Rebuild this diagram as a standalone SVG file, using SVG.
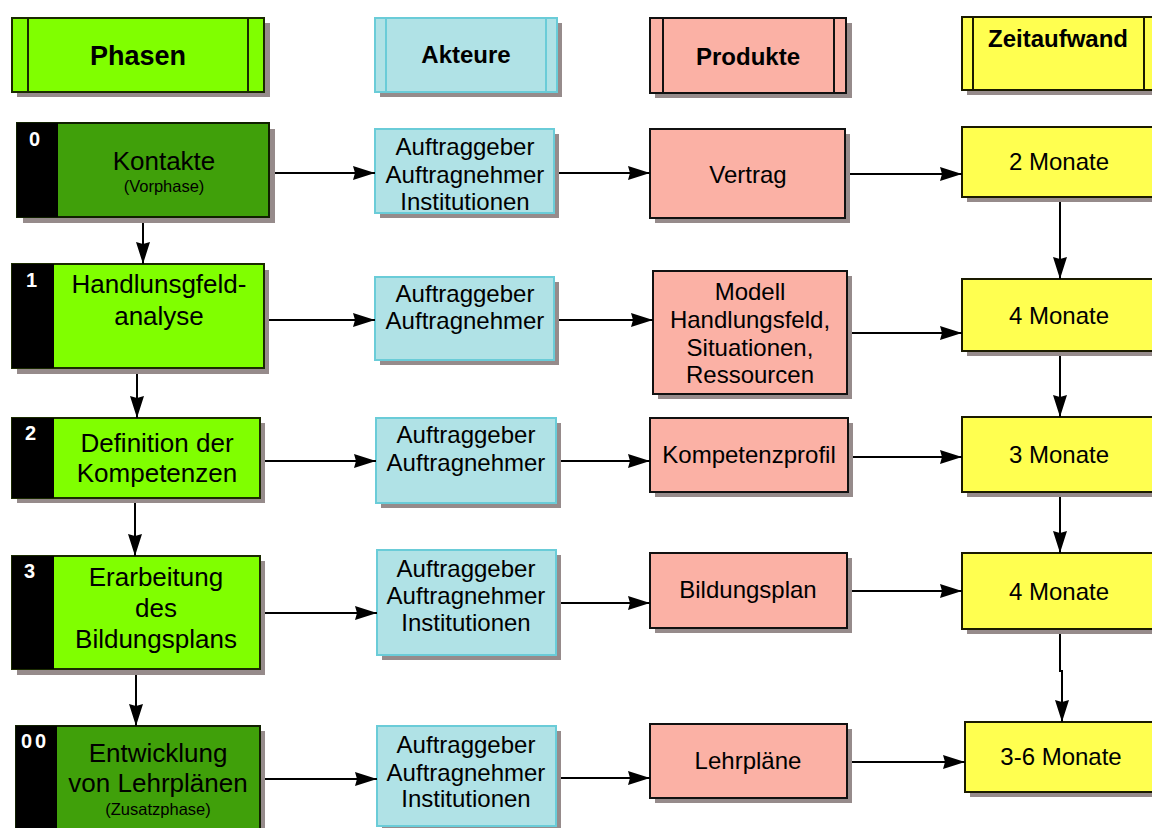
<svg xmlns="http://www.w3.org/2000/svg" width="1152" height="828" viewBox="0 0 1152 828">
<defs>
<style>
.sh{fill:#968b8b}
.lg{fill:#80ff00;stroke:#1a2a00;stroke-width:2}
.dg{fill:#40a00a;stroke:#102000;stroke-width:2}
.blk{fill:#000}
.ak{fill:#b0e2e6;stroke:#6accd8;stroke-width:2}
.pr{fill:#fbb1a5;stroke:#111;stroke-width:2}
.ze{fill:#ffff50;stroke:#1a1a00;stroke-width:2}
.t{font-family:"Liberation Sans",Arial,sans-serif;font-size:24px;fill:#000;text-anchor:middle}
.tp{font-family:"Liberation Sans",Arial,sans-serif;font-size:26px;fill:#000;text-anchor:middle}
.ts{font-family:"Liberation Sans",Arial,sans-serif;font-size:16.5px;fill:#000;text-anchor:middle}
.th{font-family:"Liberation Sans",Arial,sans-serif;font-size:24px;font-weight:bold;fill:#000;text-anchor:middle}
.num{font-family:"Liberation Sans",Arial,sans-serif;font-size:20px;font-weight:bold;fill:#fff}
.c{stroke:#000;stroke-width:2;fill:none;marker-end:url(#ah)}
</style>
<marker id="ah" markerUnits="userSpaceOnUse" markerWidth="23" markerHeight="15" refX="22" refY="7" orient="auto">
<path d="M0,0 L22,7 L0,14 L2,7 z" fill="#000"/>
</marker>
</defs>

<!-- headers -->
<g id="h-phasen">
<rect class="sh" x="17" y="23" width="253" height="74"/>
<rect class="lg" x="12" y="18" width="252" height="74"/>
<line x1="28" y1="18" x2="28" y2="92" stroke="#1a2a00" stroke-width="2"/>
<line x1="248" y1="18" x2="248" y2="92" stroke="#1a2a00" stroke-width="2"/>
<text class="th" x="138" y="65" style="font-size:27px">Phasen</text>
</g>
<g id="h-akteure">
<rect class="sh" x="380" y="23" width="182" height="74"/>
<rect class="ak" x="375" y="18" width="182" height="74"/>
<line x1="386" y1="18" x2="386" y2="92" stroke="#6accd8" stroke-width="2"/>
<line x1="546" y1="18" x2="546" y2="92" stroke="#6accd8" stroke-width="2"/>
<text class="th" x="466" y="63">Akteure</text>
</g>
<g id="h-produkte">
<rect class="sh" x="655" y="23" width="197" height="75"/>
<rect class="pr" x="650" y="18" width="196" height="75"/>
<line x1="663" y1="18" x2="663" y2="93" stroke="#111" stroke-width="2"/>
<line x1="834" y1="18" x2="834" y2="93" stroke="#111" stroke-width="2"/>
<text class="th" x="748" y="65">Produkte</text>
</g>
<g id="h-zeit">
<rect class="sh" x="967" y="22" width="200" height="73"/>
<rect class="ze" x="962" y="17" width="200" height="73"/>
<line x1="973" y1="17" x2="973" y2="90" stroke="#1a1a00" stroke-width="2"/>
<line x1="1144" y1="17" x2="1144" y2="90" stroke="#1a1a00" stroke-width="2"/>
<text class="th" x="1058" y="47">Zeitaufwand</text>
</g>

<!-- phases -->
<g id="p0">
<rect class="sh" x="23" y="129" width="252" height="94"/>
<rect class="dg" x="17" y="123" width="252" height="94"/>
<rect class="blk" x="17" y="123" width="41" height="94"/>
<text class="num" x="29" y="146">0</text>
<text class="tp" x="164" y="170">Kontakte</text>
<text class="ts" x="164" y="192">(Vorphase)</text>
</g>
<g id="p1">
<rect class="sh" x="17" y="270" width="252" height="104"/>
<rect class="lg" x="12" y="264" width="252" height="104"/>
<rect class="blk" x="12" y="264" width="42" height="104"/>
<text class="num" x="26" y="287">1</text>
<text class="tp" x="159" y="293">Handlunsgfeld-</text>
<text class="tp" x="159" y="325">analyse</text>
</g>
<g id="p2">
<rect class="sh" x="17" y="423" width="248" height="80"/>
<rect class="lg" x="12" y="418" width="248" height="80"/>
<rect class="blk" x="12" y="418" width="42" height="80"/>
<text class="num" x="25" y="440">2</text>
<text class="tp" x="157" y="452">Definition der</text>
<text class="tp" x="157" y="482">Kompetenzen</text>
</g>
<g id="p3">
<rect class="sh" x="17" y="561" width="248" height="114"/>
<rect class="lg" x="12" y="556" width="248" height="113"/>
<rect class="blk" x="12" y="556" width="42" height="113"/>
<text class="num" x="24" y="578">3</text>
<text class="tp" x="156" y="586">Erarbeitung</text>
<text class="tp" x="156" y="617">des</text>
<text class="tp" x="156" y="648">Bildungsplans</text>
</g>
<g id="p00">
<rect class="sh" x="21" y="731" width="244" height="110"/>
<rect class="dg" x="16" y="726" width="244" height="110"/>
<rect class="blk" x="16" y="726" width="41" height="110"/>
<text class="num" x="21" y="748" style="letter-spacing:3px">00</text>
<text class="tp" x="158" y="762">Entwicklung</text>
<text class="tp" x="158" y="792">von Lehrplänen</text>
<text class="ts" x="158" y="815">(Zusatzphase)</text>
</g>

<!-- actors -->
<g id="a0">
<rect class="sh" x="380" y="134" width="179" height="84"/>
<rect class="ak" x="375" y="129" width="179" height="84"/>
<text class="t" x="465" y="155">Auftraggeber</text>
<text class="t" x="465" y="183">Auftragnehmer</text>
<text class="t" x="465" y="210">Institutionen</text>
</g>
<g id="a1">
<rect class="sh" x="380" y="282" width="179" height="83"/>
<rect class="ak" x="375" y="277" width="179" height="83"/>
<text class="t" x="465" y="302">Auftraggeber</text>
<text class="t" x="465" y="329">Auftragnehmer</text>
</g>
<g id="a2">
<rect class="sh" x="381" y="423" width="180" height="85"/>
<rect class="ak" x="376" y="418" width="180" height="85"/>
<text class="t" x="466" y="443">Auftraggeber</text>
<text class="t" x="466" y="471">Auftragnehmer</text>
</g>
<g id="a3">
<rect class="sh" x="382" y="555" width="179" height="105"/>
<rect class="ak" x="377" y="550" width="179" height="105"/>
<text class="t" x="466" y="577">Auftraggeber</text>
<text class="t" x="466" y="604">Auftragnehmer</text>
<text class="t" x="466" y="631">Institutionen</text>
</g>
<g id="a4">
<rect class="sh" x="382" y="731" width="179" height="100"/>
<rect class="ak" x="377" y="726" width="179" height="100"/>
<text class="t" x="466" y="753">Auftraggeber</text>
<text class="t" x="466" y="781">Auftragnehmer</text>
<text class="t" x="466" y="807">Institutionen</text>
</g>

<!-- products -->
<g id="r0">
<rect class="sh" x="655" y="134" width="195" height="89"/>
<rect class="pr" x="650" y="129" width="195" height="89"/>
<text class="t" x="748" y="183">Vertrag</text>
</g>
<g id="r1">
<rect class="sh" x="658" y="276" width="194" height="123"/>
<rect class="pr" x="653" y="271" width="194" height="123"/>
<text class="t" x="750" y="300">Modell</text>
<text class="t" x="750" y="328">Handlungsfeld,</text>
<text class="t" x="750" y="356">Situationen,</text>
<text class="t" x="750" y="383">Ressourcen</text>
</g>
<g id="r2">
<rect class="sh" x="655" y="423" width="198" height="74"/>
<rect class="pr" x="650" y="418" width="198" height="74"/>
<text class="t" x="749" y="463">Kompetenzprofil</text>
</g>
<g id="r3">
<rect class="sh" x="655" y="558" width="197" height="75"/>
<rect class="pr" x="650" y="553" width="197" height="75"/>
<text class="t" x="748" y="598">Bildungsplan</text>
</g>
<g id="r4">
<rect class="sh" x="655" y="729" width="197" height="74"/>
<rect class="pr" x="650" y="724" width="197" height="74"/>
<text class="t" x="748" y="769">Lehrpläne</text>
</g>

<!-- time -->
<g id="z0">
<rect class="sh" x="967" y="132" width="200" height="70"/>
<rect class="ze" x="962" y="127" width="200" height="70"/>
<text class="t" x="1059" y="170">2 Monate</text>
</g>
<g id="z1">
<rect class="sh" x="967" y="284" width="200" height="72"/>
<rect class="ze" x="962" y="279" width="200" height="72"/>
<text class="t" x="1059" y="324">4 Monate</text>
</g>
<g id="z2">
<rect class="sh" x="967" y="422" width="200" height="75"/>
<rect class="ze" x="962" y="417" width="200" height="75"/>
<text class="t" x="1059" y="463">3 Monate</text>
</g>
<g id="z3">
<rect class="sh" x="967" y="558" width="200" height="76"/>
<rect class="ze" x="962" y="553" width="200" height="76"/>
<text class="t" x="1059" y="600">4 Monate</text>
</g>
<g id="z4">
<rect class="sh" x="970" y="727" width="200" height="70"/>
<rect class="ze" x="965" y="722" width="200" height="70"/>
<text class="t" x="1061" y="765">3-6 Monate</text>
</g>

<!-- connectors -->
<g id="connectors">
<line class="c" x1="275" y1="173" x2="375" y2="173"/>
<line class="c" x1="559" y1="173" x2="650" y2="173"/>
<line class="c" x1="850" y1="174" x2="962" y2="174"/>
<line class="c" x1="269" y1="320" x2="375" y2="320"/>
<line class="c" x1="559" y1="320" x2="653" y2="320"/>
<line class="c" x1="852" y1="333" x2="962" y2="333"/>
<line class="c" x1="265" y1="461" x2="376" y2="461"/>
<line class="c" x1="561" y1="461" x2="650" y2="461"/>
<line class="c" x1="853" y1="457" x2="962" y2="457"/>
<line class="c" x1="265" y1="613" x2="377" y2="613"/>
<line class="c" x1="561" y1="603" x2="650" y2="603"/>
<line class="c" x1="852" y1="591" x2="962" y2="591"/>
<line class="c" x1="265" y1="779" x2="377" y2="779"/>
<line class="c" x1="561" y1="778" x2="650" y2="778"/>
<line class="c" x1="852" y1="762" x2="965" y2="762"/>
<line class="c" x1="143" y1="223" x2="143" y2="264"/>
<line class="c" x1="137" y1="374" x2="137" y2="418"/>
<line class="c" x1="135" y1="503" x2="135" y2="556"/>
<line class="c" x1="136" y1="675" x2="136" y2="726"/>
<line class="c" x1="1060" y1="202" x2="1060" y2="279"/>
<line class="c" x1="1060" y1="356" x2="1060" y2="417"/>
<line class="c" x1="1060" y1="497" x2="1060" y2="553"/>
<polyline class="c" points="1060,634 1060,671 1062,671 1062,722"/>
</g>
</svg>
